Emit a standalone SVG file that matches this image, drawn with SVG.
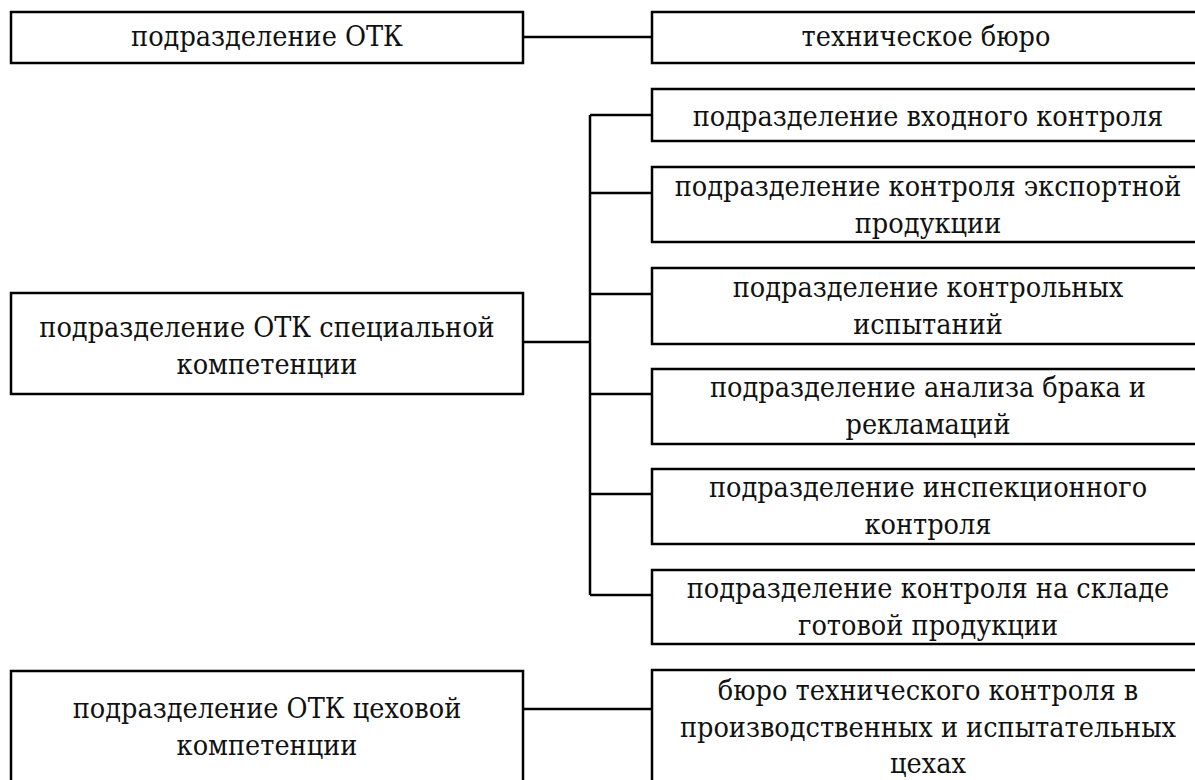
<svg xmlns="http://www.w3.org/2000/svg" width="1195" height="780" viewBox="0 0 1195 780">
<style>
.box{fill:#fff;stroke:#000;stroke-width:2.5}
.con{fill:none;stroke:#000;stroke-width:2.5}
.t{font-family:"DejaVu Serif Condensed","DejaVu Serif",serif;font-size:28.5px;fill:#111;text-anchor:middle}
</style>
<rect width="1195" height="780" fill="#fff"/>
<g id="connectors">
<line class="con" x1="523" y1="37" x2="652" y2="37"/>
<line class="con" x1="523" y1="342" x2="590" y2="342"/>
<line class="con" x1="590" y1="115" x2="590" y2="595"/>
<line class="con" x1="590" y1="115" x2="652" y2="115"/>
<line class="con" x1="590" y1="193" x2="652" y2="193"/>
<line class="con" x1="590" y1="294" x2="652" y2="294"/>
<line class="con" x1="590" y1="394" x2="652" y2="394"/>
<line class="con" x1="590" y1="494" x2="652" y2="494"/>
<line class="con" x1="590" y1="595" x2="652" y2="595"/>
<line class="con" x1="523" y1="709" x2="652" y2="709"/>
</g>
<g id="otk">
<rect class="box" x="11" y="12" width="512" height="51"/>
<text class="t" x="267" y="46">подразделение ОТК</text>
</g>
<g id="tech-bureau">
<rect class="box" x="652" y="12" width="560" height="51"/>
<text class="t" x="926" y="46">техническое бюро</text>
</g>
<g id="special">
<rect class="box" x="11" y="293" width="512" height="101"/>
<text class="t" x="267" y="337">подразделение ОТК специальной</text>
<text class="t" x="267" y="374">компетенции</text>
</g>
<g id="input-control">
<rect class="box" x="652" y="89" width="560" height="52"/>
<text class="t" x="928" y="126">подразделение входного контроля</text>
</g>
<g id="export-control">
<rect class="box" x="652" y="167" width="560" height="75"/>
<text class="t" x="928" y="196">подразделение контроля экспортной</text>
<text class="t" x="928" y="233">продукции</text>
</g>
<g id="test-control">
<rect class="box" x="652" y="268" width="560" height="76"/>
<text class="t" x="928" y="297">подразделение контрольных</text>
<text class="t" x="928" y="334">испытаний</text>
</g>
<g id="defect-analysis">
<rect class="box" x="652" y="369" width="560" height="75"/>
<text class="t" x="928" y="397">подразделение анализа брака и</text>
<text class="t" x="928" y="434">рекламаций</text>
</g>
<g id="inspection">
<rect class="box" x="652" y="469" width="560" height="75"/>
<text class="t" x="928" y="497">подразделение инспекционного</text>
<text class="t" x="928" y="534">контроля</text>
</g>
<g id="warehouse">
<rect class="box" x="652" y="570" width="560" height="74"/>
<text class="t" x="928" y="598">подразделение контроля на складе</text>
<text class="t" x="928" y="635">готовой продукции</text>
</g>
<g id="shop">
<rect class="box" x="11" y="671" width="512" height="130"/>
<text class="t" x="267" y="718">подразделение ОТК цеховой</text>
<text class="t" x="267" y="755">компетенции</text>
</g>
<g id="shop-bureau">
<rect class="box" x="652" y="670" width="560" height="130"/>
<text class="t" x="928" y="700">бюро технического контроля в</text>
<text class="t" x="928" y="737">производственных и испытательных</text>
<text class="t" x="928" y="773">цехах</text>
</g>
</svg>
